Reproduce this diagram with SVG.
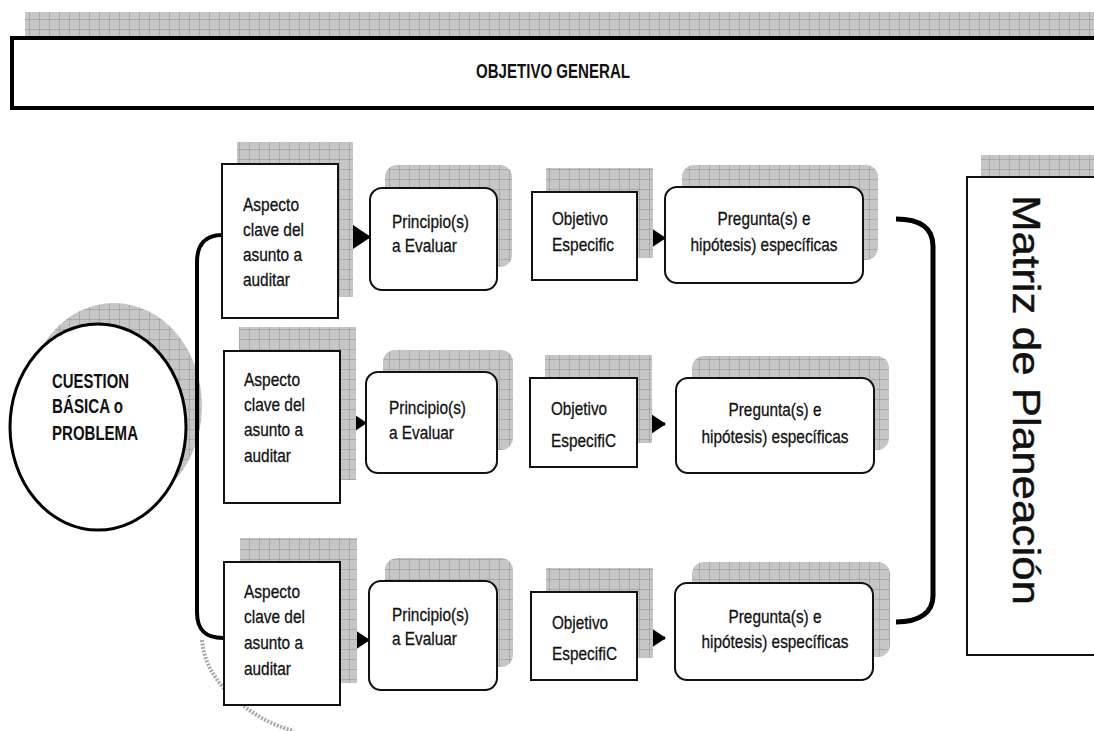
<svg xmlns="http://www.w3.org/2000/svg" width="1094" height="731" viewBox="0 0 1094 731">
<defs>
<pattern id="grid" width="10" height="10" patternUnits="userSpaceOnUse">
<rect width="10" height="10" fill="#c6c6c6"/>
<path d="M10,0 L10,10 M0,10 L10,10" stroke="#8e8e8e" stroke-width="1" fill="none"/>
</pattern>
<marker id="arr" markerUnits="userSpaceOnUse" viewBox="0 0 18 24" markerWidth="18" markerHeight="24" refX="17" refY="12" orient="auto">
<path d="M0,0 L18,12 L0,24 z" fill="#000"/>
</marker>
<style>
.sh{fill:url(#grid);stroke:none}
.box{fill:#fff;stroke:#111;stroke-width:2}
.t{font-family:"Liberation Sans",Arial,sans-serif;font-size:19px;fill:#111;stroke:#111;stroke-width:0.3}
.b{font-family:"Liberation Sans",Arial,sans-serif;font-size:20px;font-weight:bold;fill:#111}
.c{text-anchor:middle}
.con{fill:none;stroke:#000}
</style>
</defs>
<rect width="1094" height="731" fill="#fff"/>

<g id="objetivo-general">
<rect class="sh" x="25" y="12" width="1075" height="24"/>
<rect x="12" y="38" width="1090" height="70" fill="#fff" stroke="#000" stroke-width="4"/>
<text class="b c" x="553" y="78" textLength="154" lengthAdjust="spacingAndGlyphs">OBJETIVO GENERAL</text>
</g>

<g id="matriz">
<rect class="sh" x="981" y="155" width="120" height="22"/>
<rect x="967" y="177" width="135" height="478" fill="#fff" stroke="#111" stroke-width="2"/>
<text class="t c" transform="translate(1013,400) rotate(90)" x="0" y="0" style="font-size:38px;stroke-width:0.4" textLength="410" lengthAdjust="spacingAndGlyphs">Matriz de Planeación</text>
</g>

<g id="cuestion">
<ellipse class="sh" cx="114" cy="406" rx="88" ry="103"/>
<ellipse cx="98" cy="427" rx="88" ry="103" fill="#fff" stroke="#000" stroke-width="3"/>
<text class="b" x="52" y="388" textLength="77" lengthAdjust="spacingAndGlyphs">CUESTION</text>
<text class="b" x="52" y="413" textLength="71" lengthAdjust="spacingAndGlyphs">BÁSICA o</text>
<text class="b" x="52" y="440" textLength="86" lengthAdjust="spacingAndGlyphs">PROBLEMA</text>
</g>

<g id="connectors">
<path d="M202,640 C204,662 214,682 240,703 C256,716 272,725 294,731" fill="none" stroke="#a8a8a8" stroke-width="4" stroke-dasharray="2 1.5"/>
<path class="con" stroke-width="4" d="M222,235 C205,235 197,245 197,262 L197,612 C197,630 205,638 223,638"/>
<path class="con" stroke-width="5" d="M896,219 C920,219 933,228 933,246 L933,596 C933,612 920,622 896,622"/>
<line class="con" stroke-width="3" x1="338" y1="237" x2="370" y2="237" marker-end="url(#arr)"/>
<line class="con" stroke-width="3" x1="637" y1="238" x2="665" y2="238" marker-end="url(#arr)"/>
<line class="con" stroke-width="2" x1="340" y1="423" x2="366" y2="423" marker-end="url(#arr)"/>
<line class="con" stroke-width="3" x1="637" y1="424" x2="665" y2="424" marker-end="url(#arr)"/>
<line class="con" stroke-width="3" x1="340" y1="640" x2="369" y2="640" marker-end="url(#arr)"/>
<line class="con" stroke-width="3" x1="637" y1="638" x2="665" y2="638" marker-end="url(#arr)"/>
</g>

<g id="aspecto-1">
<rect class="sh" x="237" y="142" width="116" height="155"/>
<rect class="box" x="222" y="164" width="116" height="154"/>
<text class="t" x="243" y="211" textLength="56" lengthAdjust="spacingAndGlyphs">Aspecto</text>
<text class="t" x="243" y="236" textLength="61" lengthAdjust="spacingAndGlyphs">clave del</text>
<text class="t" x="243" y="261" textLength="59" lengthAdjust="spacingAndGlyphs">asunto a</text>
<text class="t" x="243" y="286" textLength="47" lengthAdjust="spacingAndGlyphs">auditar</text>
</g>
<g id="principio-1">
<rect class="sh" x="385" y="165" width="127" height="102" rx="12"/>
<rect class="box" x="370" y="188" width="127" height="102" rx="12"/>
<text class="t" x="392" y="228" textLength="77" lengthAdjust="spacingAndGlyphs">Principio(s)</text>
<text class="t" x="392" y="252" textLength="65" lengthAdjust="spacingAndGlyphs">a Evaluar</text>
</g>
<g id="objetivo-1">
<rect class="sh" x="546" y="168" width="107" height="90"/>
<rect class="box" x="532" y="192" width="105" height="88"/>
<text class="t" x="552" y="225" textLength="56" lengthAdjust="spacingAndGlyphs">Objetivo</text>
<text class="t" x="552" y="251" textLength="62" lengthAdjust="spacingAndGlyphs">Especific</text>
</g>
<g id="pregunta-1">
<rect class="sh" x="682" y="165" width="196" height="95" rx="12"/>
<rect class="box" x="665" y="187" width="198" height="96" rx="12"/>
<text class="t c" x="764" y="225" textLength="93" lengthAdjust="spacingAndGlyphs">Pregunta(s) e</text>
<text class="t c" x="764" y="251" textLength="147" lengthAdjust="spacingAndGlyphs">hipótesis) específicas</text>
</g>

<g id="aspecto-2">
<rect class="sh" x="239" y="327" width="117" height="153"/>
<rect class="box" x="224" y="351" width="116" height="152"/>
<text class="t" x="244" y="386" textLength="56" lengthAdjust="spacingAndGlyphs">Aspecto</text>
<text class="t" x="244" y="411" textLength="61" lengthAdjust="spacingAndGlyphs">clave del</text>
<text class="t" x="244" y="436" textLength="59" lengthAdjust="spacingAndGlyphs">asunto a</text>
<text class="t" x="244" y="462" textLength="47" lengthAdjust="spacingAndGlyphs">auditar</text>
</g>
<g id="principio-2">
<rect class="sh" x="383" y="350" width="130" height="100" rx="12"/>
<rect class="box" x="366" y="372" width="131" height="101" rx="12"/>
<text class="t" x="389" y="414" textLength="77" lengthAdjust="spacingAndGlyphs">Principio(s)</text>
<text class="t" x="389" y="439" textLength="65" lengthAdjust="spacingAndGlyphs">a Evaluar</text>
</g>
<g id="objetivo-2">
<rect class="sh" x="545" y="355" width="107" height="88"/>
<rect class="box" x="530" y="378" width="107" height="89"/>
<text class="t" x="551" y="415" textLength="56" lengthAdjust="spacingAndGlyphs">Objetivo</text>
<text class="t" x="551" y="447" textLength="65" lengthAdjust="spacingAndGlyphs">EspecifiC</text>
</g>
<g id="pregunta-2">
<rect class="sh" x="692" y="356" width="197" height="94" rx="12"/>
<rect class="box" x="676" y="378" width="198" height="95" rx="12"/>
<text class="t c" x="775" y="416" textLength="93" lengthAdjust="spacingAndGlyphs">Pregunta(s) e</text>
<text class="t c" x="775" y="443" textLength="147" lengthAdjust="spacingAndGlyphs">hipótesis) específicas</text>
</g>

<g id="aspecto-3">
<rect class="sh" x="240" y="538" width="117" height="145"/>
<rect class="box" x="224" y="562" width="116" height="143"/>
<text class="t" x="244" y="598" textLength="56" lengthAdjust="spacingAndGlyphs">Aspecto</text>
<text class="t" x="244" y="623" textLength="61" lengthAdjust="spacingAndGlyphs">clave del</text>
<text class="t" x="244" y="649" textLength="59" lengthAdjust="spacingAndGlyphs">asunto a</text>
<text class="t" x="244" y="675" textLength="47" lengthAdjust="spacingAndGlyphs">auditar</text>
</g>
<g id="principio-3">
<rect class="sh" x="385" y="558" width="128" height="109" rx="12"/>
<rect class="box" x="369" y="581" width="128" height="109" rx="12"/>
<text class="t" x="392" y="621" textLength="77" lengthAdjust="spacingAndGlyphs">Principio(s)</text>
<text class="t" x="392" y="645" textLength="65" lengthAdjust="spacingAndGlyphs">a Evaluar</text>
</g>
<g id="objetivo-3">
<rect class="sh" x="546" y="568" width="107" height="90"/>
<rect class="box" x="531" y="592" width="106" height="88"/>
<text class="t" x="552" y="629" textLength="56" lengthAdjust="spacingAndGlyphs">Objetivo</text>
<text class="t" x="552" y="660" textLength="65" lengthAdjust="spacingAndGlyphs">EspecifiC</text>
</g>
<g id="pregunta-3">
<rect class="sh" x="692" y="562" width="198" height="95" rx="12"/>
<rect class="box" x="675" y="583" width="198" height="97" rx="12"/>
<text class="t c" x="775" y="623" textLength="93" lengthAdjust="spacingAndGlyphs">Pregunta(s) e</text>
<text class="t c" x="775" y="648" textLength="147" lengthAdjust="spacingAndGlyphs">hipótesis) específicas</text>
</g>
</svg>
